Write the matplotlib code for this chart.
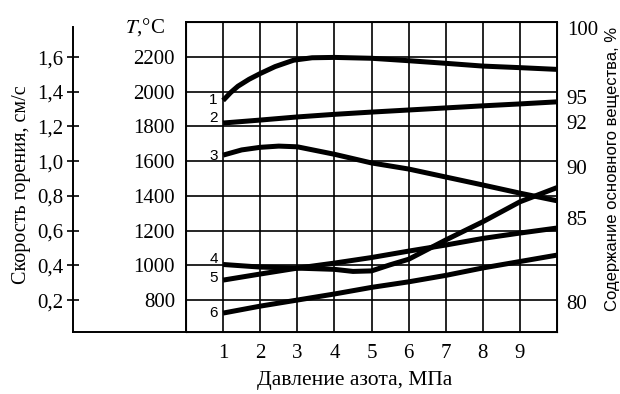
import matplotlib
matplotlib.use("Agg")
import matplotlib.pyplot as plt

plt.rcParams['font.family'] = ['Liberation Serif', 'DejaVu Serif']
plt.rcParams['mathtext.fontset'] = 'stix'

# Давление азота, МПа (шкала X)
pressure_ticks = [1, 2, 3, 4, 5, 6, 7, 8, 9]

# Кривые, T в °C (по левой шкале температуры)
x1 = [1, 1.2, 1.4, 1.7, 2, 2.4, 2.9, 3.4, 4, 5, 6, 7, 8, 9, 10]
t1 = [1950, 1995, 2032, 2072, 2105, 2145, 2182, 2196, 2198, 2193, 2179, 2164, 2148, 2139, 2129]

x2 = [1, 2, 3, 4, 5, 6, 7, 8, 9, 10]
t2 = [1820, 1837, 1855, 1870, 1883, 1895, 1907, 1919, 1930, 1942]

x3 = [1, 1.5, 2, 2.5, 3, 4, 5, 6, 7, 8, 9, 10]
t3 = [1635, 1665, 1680, 1687, 1683, 1640, 1590, 1555, 1509, 1463, 1416, 1372]

x4 = [1, 2, 3, 4, 4.5, 5, 5.5, 6, 7, 8, 9, 10]
t4 = [1005, 990, 984, 977, 965, 968, 1003, 1035, 1146, 1251, 1366, 1448]

x5 = [1, 2, 3, 4, 5, 6, 7, 8, 9, 10]
t5 = [915, 950, 984, 1013, 1045, 1082, 1117, 1155, 1186, 1215]

x6 = [1, 2, 3, 4, 5, 6, 7, 8, 9, 10]
t6 = [725, 765, 800, 835, 873, 905, 942, 985, 1022, 1059]

curves = [(x1, t1), (x2, t2), (x3, t3), (x4, t4), (x5, t5), (x6, t6)]
curve_names = ['1', '2', '3', '4', '5', '6']
label_T = [1952, 1849, 1630, 1036, 927, 725]

# Шкалы
temp_ticks = [800, 1000, 1200, 1400, 1600, 1800, 2000, 2200]
speed_ticks = [0.2, 0.4, 0.6, 0.8, 1.0, 1.2, 1.4, 1.6]
speed_labels = ['0,2', '0,4', '0,6', '0,8', '1,0', '1,2', '1,4', '1,6']
purity_labels = ['100', '95', '92', '90', '85', '80']
purity_T = [2367, 1969, 1825, 1566, 1272, 788]

t_lo, t_hi = 616, 2402

W, H = 620, 394
fig = plt.figure(figsize=(W / 100, H / 100), dpi=100)

left, right, top, bottom = 186, 557, 22, 332
ax = fig.add_axes([left / W, 1 - bottom / H, (right - left) / W, (bottom - top) / H])
ax.set_xlim(0, 10)
ax.set_ylim(t_lo, t_hi)

for x, t in curves:
    ax.plot(x, t, color='black', lw=3.6, solid_capstyle='butt', solid_joinstyle='round', zorder=3)

for name, ty in zip(curve_names, label_T):
    ax.text(0.74, ty, name, ha='center', va='center', fontsize=11,
            family='Liberation Sans', zorder=4)

ax.set_xticks(pressure_ticks)
ax.set_xticklabels([str(p) for p in pressure_ticks], fontsize=15)
ax.set_yticks(temp_ticks)
ax.set_yticklabels([str(t) for t in temp_ticks], fontsize=15)
ax.tick_params(axis='x', length=0, pad=9)
ax.tick_params(axis='y', length=0, pad=8)
ax.grid(True, color='black', lw=1.2)
for s in ax.spines.values():
    s.set_linewidth(1.4)

# правая шкала: содержание основного вещества
ax_r = ax.twinx()
ax_r.set_ylim(t_lo, t_hi)
ax_r.set_yticks(purity_T)
ax_r.set_yticklabels(purity_labels, fontsize=15)
ax_r.tick_params(axis='y', length=0, pad=7)

# левая шкала: скорость горения
ax_v = fig.add_axes([73 / W, 1 - bottom / H, (left - 73) / W, (bottom - top) / H])
ax_v.set_ylim((t_lo - 600) / 1000, (t_hi - 600) / 1000)
ax_v.set_xlim(0, 1)
ax_v.spines['top'].set_visible(False)
ax_v.spines['right'].set_visible(False)
ax_v.spines['left'].set_linewidth(1.4)
ax_v.spines['left'].set_bounds((t_lo - 600) / 1000, 1.775)
ax_v.spines['bottom'].set_linewidth(1.4)
ax_v.set_xticks([])
ax_v.set_yticks(speed_ticks)
ax_v.set_yticklabels(speed_labels, fontsize=15)
ax_v.tick_params(axis='y', direction='inout', length=8, width=1.2, pad=3)
ax_v.patch.set_alpha(0)

fig.text(0.035, 1 - 185 / H, 'Скорость горения, см/с', rotation=90,
         ha='center', va='center', fontsize=14.5)
fig.text(145 / W, 1 - 27 / H, r'$\mathit{T}$,°C', ha='center', va='center', fontsize=15)
fig.text(355 / W, 1 - 381 / H, 'Давление азота, МПа', ha='center', va='center', fontsize=15.5)
fig.text(612 / W, 1 - 169 / H, 'Содержание основного вещества, %', rotation=90,
         ha='center', va='center', fontsize=12, family='Liberation Sans')

fig.savefig('out.png', dpi=100)
